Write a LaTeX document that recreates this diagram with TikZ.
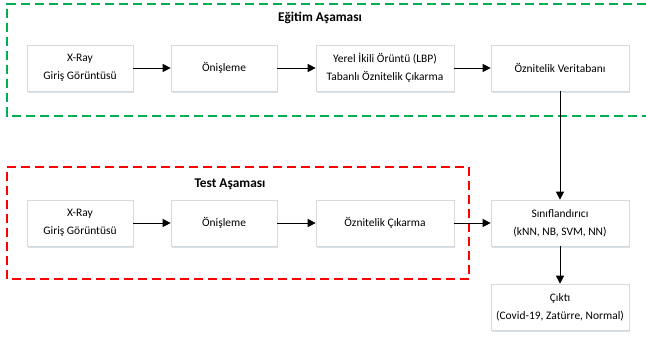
\documentclass[tikz,border=0pt]{standalone}
\usepackage{fontspec}
\setmainfont{Carlito}
\usetikzlibrary{arrows.meta,shadows}
\definecolor{stagegreen}{RGB}{0,176,80}
\definecolor{stagered}{RGB}{255,0,0}
\definecolor{boxedge}{RGB}{217,217,217}
\definecolor{boxshade}{RGB}{200,212,232}
\tikzset{
  stepbox/.style={draw=boxedge, fill=white, line width=0.5pt, align=center,
    minimum width=79.5pt, minimum height=34.5pt, inner sep=2pt,
    drop shadow={fill=boxshade, opacity=0.7, shadow xshift=0.6pt, shadow yshift=-1.4pt}},
  widebox/.style={stepbox, minimum width=103.5pt},
  flow/.style={-{Triangle[length=6pt,width=6pt]}, line width=0.6pt, black},
  stageframe/.style={line width=1.1pt, dash pattern=on 7pt off 3.5pt},
  stagetitle/.style={font=\bfseries}
}
\begin{document}
\begin{tikzpicture}[x=0.75pt, y=0.75pt, font=\fontsize{8.6}{13.5}\selectfont]
  \useasboundingbox (0,0) rectangle (646,340);
  % Training stage
  \draw[stageframe, stagegreen] (646,336) -- (7,336) -- (7,224) -- (646,224);
  \node[stagetitle] (trainlabel) at (320,322) {Eğitim Aşaması};
  \node[stepbox] (trainin) at (80,272) {X-Ray\\Giriş Görüntüsü};
  \node[stepbox] (trainpre) at (224,272) {Önişleme};
  \node[widebox] (trainlbp) at (385,272) {Yerel İkili Örüntü (LBP)\\Tabanlı Öznitelik Çıkarma};
  \node[widebox] (featdb) at (560,272) {Öznitelik Veritabanı};
  \draw[flow] (trainin) -- (trainpre);
  \draw[flow] (trainpre) -- (trainlbp);
  \draw[flow] (trainlbp) -- (featdb);
  % Test stage
  \draw[stageframe, stagered] (7,61) rectangle (469,173);
  \node[stagetitle] (testlabel) at (230,156) {Test Aşaması};
  \node[stepbox] (testin) at (80,117) {X-Ray\\Giriş Görüntüsü};
  \node[stepbox] (testpre) at (224,117) {Önişleme};
  \node[widebox] (testfeat) at (385,117) {Öznitelik Çıkarma};
  \node[widebox] (classifier) at (560,117) {Sınıflandırıcı\\(kNN, NB, SVM, NN)};
  \node[widebox] (output) at (560,33) {Çıktı\\(Covid-19, Zatürre, Normal)};
  \draw[flow] (testin) -- (testpre);
  \draw[flow] (testpre) -- (testfeat);
  \draw[flow] (testfeat) -- (classifier);
  \draw[flow] (featdb) -- (classifier);
  \draw[flow] (classifier) -- (output);
\end{tikzpicture}
\end{document}
